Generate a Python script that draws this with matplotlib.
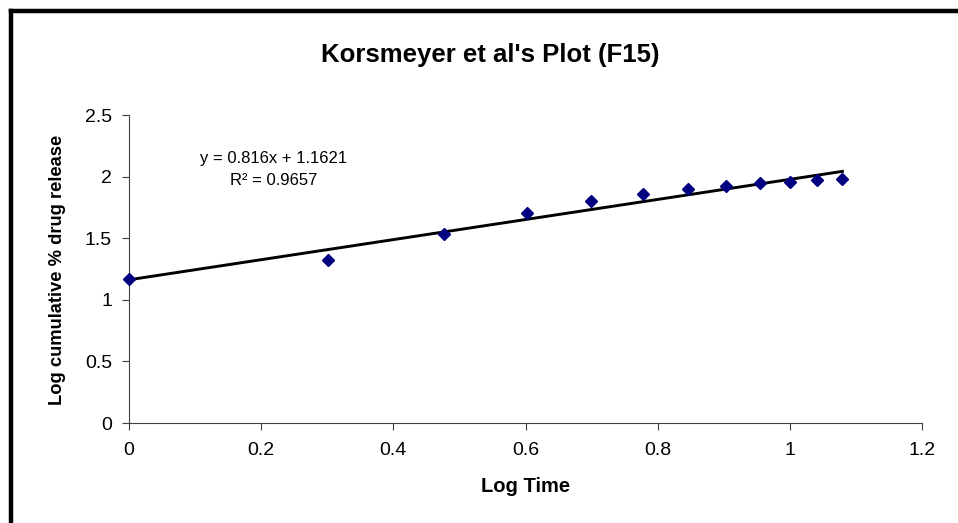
import numpy as np
import matplotlib
matplotlib.use("Agg")
import matplotlib.pyplot as plt
from matplotlib.lines import Line2D

plt.rcParams['font.family'] = ['Liberation Sans', 'DejaVu Sans']

# ==================== DATA ====================
log_time = [0.0, 0.301, 0.477, 0.602, 0.699, 0.778, 0.845, 0.903, 0.954, 1.0, 1.041, 1.079]
log_release = [1.166, 1.323, 1.534, 1.705, 1.802, 1.861, 1.897, 1.924, 1.945, 1.954, 1.970, 1.981]

slope = 0.816
intercept = 1.1621
r2 = 0.9657

x_ticks = [0, 0.2, 0.4, 0.6, 0.8, 1, 1.2]
x_tick_labels = ["0", "0.2", "0.4", "0.6", "0.8", "1", "1.2"]
y_ticks = [0, 0.5, 1, 1.5, 2, 2.5]
y_tick_labels = ["0", "0.5", "1", "1.5", "2", "2.5"]

# ==================== FIGURE ====================
fig = plt.figure(figsize=(9.58, 5.23), dpi=100)
ax = fig.add_axes([0.1343, 0.1912, 0.8286, 0.5889])

# trendline (Excel linear fit)
x_fit = np.array([min(log_time), max(log_time)])
ax.plot(x_fit, slope * x_fit + intercept, color="black", lw=2.1, zorder=2)

ax.plot(log_time, log_release, linestyle="none", marker="D", ms=6.5,
        color="#000080", zorder=3, clip_on=False)

ax.set_xlim(0, 1.2)
ax.set_ylim(0, 2.5)
ax.set_xticks(x_ticks)
ax.set_xticklabels(x_tick_labels)
ax.set_yticks(y_ticks)
ax.set_yticklabels(y_tick_labels)
ax.tick_params(axis="both", direction="out", length=5, width=0.8,
               color="#404040", labelsize=14)
ax.tick_params(axis="x", pad=8.5)
ax.tick_params(axis="y", pad=7)

for side in ["top", "right"]:
    ax.spines[side].set_visible(False)
for side in ["left", "bottom"]:
    ax.spines[side].set_color("#404040")
    ax.spines[side].set_linewidth(0.8)

fig.text(0.549, 0.0593, "Log Time", ha="center", va="baseline",
         fontsize=14.5, fontweight="bold")
fig.text(0.0605, 0.4837, "Log cumulative % drug release", ha="center", va="center",
         rotation=90, fontsize=13.2, fontweight="bold")

fig.text(0.5115, 0.882, "Korsmeyer et al's Plot (F15)", ha="center", va="baseline",
         fontsize=18.5, fontweight="bold")

ax.text(0.219, 2.108, f"y = {slope}x + {intercept}", ha="center", va="baseline", fontsize=12)
ax.text(0.219, 1.932, f"R\u00b2 = {r2}", ha="center", va="baseline", fontsize=12)

# chart border (left and top visible)
fig.add_artist(Line2D([0.0115, 0.0115], [0, 0.9790], transform=fig.transFigure,
                      color="black", lw=3.2, solid_capstyle="projecting"))
fig.add_artist(Line2D([0.0115, 1.0], [0.9790, 0.9790], transform=fig.transFigure,
                      color="black", lw=3.2, solid_capstyle="projecting"))

fig.savefig("out.png", dpi=100)
plt.close()
